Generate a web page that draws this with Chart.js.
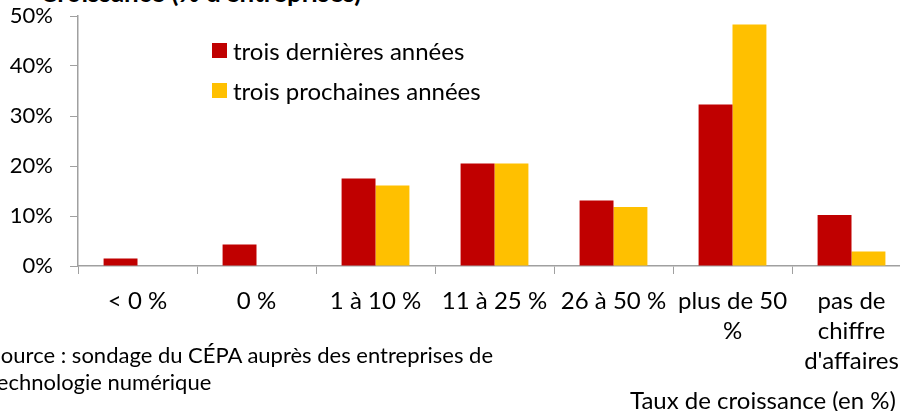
<!DOCTYPE html>
<html lang="fr">
<head>
<meta charset="utf-8">
<script src="https://cdn.jsdelivr.net/npm/chart.js@4"></script>
<style>
  body { margin: 0; width: 900px; height: 411px; overflow: hidden; position: relative; background: #fff; font-family: Lato, sans-serif; color: #000; }
  #wrap { position: absolute; left: 0; top: 0; width: 930px; height: 411px; }
  .txt { position: absolute; white-space: nowrap; }
  #titre { left: 40px; top: -21px; font-weight: bold; font-size: 26px; line-height: 26px; }
  #source { left: -11px; top: 341px; font-size: 22px; line-height: 27px; }
  #axe { left: 630px; top: 386px; font-size: 24px; line-height: 28px; }
  #legende { position: absolute; left: 212px; top: 30px; font-size: 24px; }
  #legende div { height: 40px; display: flex; align-items: center; }
  #legende span.box { display: inline-block; width: 15px; height: 15px; margin: 0 6px 0 0; }
</style>
</head>
<body>
<div class="txt" id="titre">Croissance (% d'entreprises)</div>
<div id="wrap"><canvas id="myChart" width="930" height="411"></canvas></div>
<div id="legende"></div>
<div class="txt" id="source">Source : sondage du CÉPA auprès des entreprises de<br>technologie numérique</div>
<div class="txt" id="axe">Taux de croissance (en %)</div>
<script>
let categories = ['< 0 %', '0 %', '1 à 10 %', '11 à 25 %', '26 à 50 %', ['plus de 50', '%'], ['pas de', 'chiffre', "d'affaires"]];
let dernieres = [1.5, 4.3, 17.5, 20.5, 13.1, 32.3, 10.2];
let prochaines = [0, 0, 16.1, 20.5, 11.8, 48.3, 2.9];
let yTicks = [0, 10, 20, 30, 40, 50];

Chart.defaults.font.family = 'Lato, sans-serif';
Chart.defaults.color = '#000';

let ctx = document.getElementById('myChart');
let myChart = new Chart(ctx, {
    type: 'bar',
    data: {
        labels: categories,
        datasets: [{
            label: 'trois dernières années',
            data: dernieres,
            backgroundColor: '#C00000'
        }, {
            label: 'trois prochaines années',
            data: prochaines,
            backgroundColor: '#FFC000'
        }]
    },
    options: {
        responsive: false,
        animation: false,
        datasets: { bar: { barPercentage: 1, categoryPercentage: 0.57 } },
        layout: { padding: { top: 16, right: 19, left: 0, bottom: 0 } },
        plugins: {
            legend: { display: false },
            tooltip: { enabled: false }
        },
        scales: {
            x: {
                grid: { drawOnChartArea: false, tickLength: 8, color: '#a0a0a0', offset: true },
                border: { color: '#a0a0a0', width: 1.5 },
                ticks: { padding: 12, maxRotation: 0, autoSkip: false, font: { size: 24, lineHeight: 1.25 } },
                afterFit: s => { s.height = 145; s.paddingTop = 0; s.paddingBottom = 0; }
            },
            y: {
                min: 0,
                max: 50,
                afterBuildTicks: s => { s.ticks = yTicks.map(v => ({ value: v })); },
                grid: { drawOnChartArea: false, tickLength: 8, color: '#a0a0a0' },
                border: { color: '#a0a0a0', width: 1.5 },
                ticks: { padding: 17, font: { size: 22 }, callback: v => v + '%' },
                afterFit: s => { s.width = 78; s.paddingTop = 0; s.paddingBottom = 0; }
            }
        }
    }
});

// légende dans la zone du graphique
let leg = document.getElementById('legende');
myChart.data.datasets.forEach(ds => {
    let row = document.createElement('div');
    row.innerHTML = '<span class="box" style="background:' + ds.backgroundColor + '"></span>' + ds.label;
    leg.appendChild(row);
});
</script>
</body>
</html>
